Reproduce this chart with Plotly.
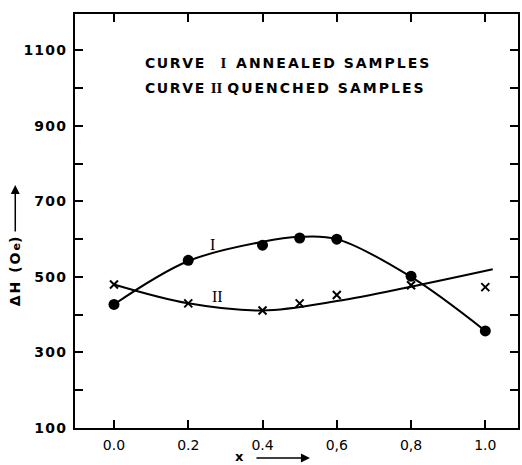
import plotly.graph_objects as go

# ---- data ----
x_annealed = [0.0, 0.2, 0.4, 0.5, 0.6, 0.8, 1.0]
dh_annealed = [427, 544, 584, 603, 600, 502, 357]

x_quenched = [0.0, 0.2, 0.4, 0.5, 0.6, 0.8, 1.0]
dh_quenched = [480, 430, 411, 430, 452, 478, 473]

# smooth (hand-drawn) fitted curves
x_fit_annealed = [0.0, 0.2, 0.4, 0.5, 0.6, 0.8, 1.0]
dh_fit_annealed = [427, 542, 593, 606, 600, 500, 357]

x_fit_quenched = [0.0, 0.2, 0.4, 0.6, 0.8, 1.02]
dh_fit_quenched = [480, 430, 411, 436, 474, 520]

x_tickvals = [0.0, 0.2, 0.4, 0.6, 0.8, 1.0]
x_ticktext = ["0.0", "0.2", "0.4", "0,6", "0,8", "1.0"]
y_tickvals = [100, 200, 300, 400, 500, 600, 700, 800, 900, 1000, 1100]
y_ticktext = ["100", "", "300", "", "500", "", "700", "", "900", "", "1100"]

BLACK = "black"
FONT = "DejaVu Sans"
SERIF = "Liberation Serif"

fig = go.Figure()

fig.add_trace(go.Scatter(x=x_fit_annealed, y=dh_fit_annealed, mode="lines",
                         line=dict(color=BLACK, width=2, shape="spline", smoothing=1.0),
                         hoverinfo="skip"))
fig.add_trace(go.Scatter(x=x_fit_quenched, y=dh_fit_quenched, mode="lines",
                         line=dict(color=BLACK, width=2, shape="spline", smoothing=1.0),
                         hoverinfo="skip"))
fig.add_trace(go.Scatter(x=x_annealed, y=dh_annealed, mode="markers",
                         marker=dict(symbol="circle", size=11, color=BLACK)))
fig.add_trace(go.Scatter(x=x_quenched, y=dh_quenched, mode="markers",
                         marker=dict(symbol="x-thin-open", size=8, color=BLACK,
                                     line=dict(color=BLACK, width=2))))

sp = lambda s, ls: f'<span style="letter-spacing:{ls}px">{s}</span>'

axis_common = dict(
    ticks="inside", ticklen=8, tickwidth=1.5, tickcolor=BLACK,
    showline=True, linewidth=2, linecolor=BLACK, mirror="ticks",
    showgrid=False, zeroline=False,
)

fig.update_layout(
    width=522, height=465,
    margin=dict(l=75, r=2, t=14, b=37),
    paper_bgcolor="white", plot_bgcolor="white",
    showlegend=False,
    font=dict(family=FONT, size=14, color=BLACK),
    xaxis=dict(range=[-0.105, 1.088], tickmode="array", tickvals=x_tickvals,
               ticktext=x_ticktext, ticklabelstandoff=3,
               tickfont=dict(family=FONT, size=14, color=BLACK), **axis_common),
    yaxis=dict(range=[100, 1196], tickmode="array", tickvals=y_tickvals,
               ticktext=[sp(t, 1.2) if t else "" for t in y_ticktext],
               ticklabelstandoff=3,
               tickfont=dict(family=FONT, size=14, color=BLACK, weight="bold"),
               **axis_common),
)

roman = lambda s: f'<span style="font-family:{SERIF};font-weight:bold;font-size:15px">{s}</span>'

annotations = [
    dict(xref="paper", yref="paper", x=(143 - 75) / 445, y=(428 - 63) / 414,
         xanchor="left", yanchor="middle", showarrow=False,
         text=sp("CURVE", 1.6) + "&nbsp;&nbsp;&nbsp;" + roman("I")
              + "&nbsp;&nbsp;" + sp("ANNEALED SAMPLES", 2.0),
         font=dict(family=FONT, size=14, color=BLACK, weight="bold")),
    dict(xref="paper", yref="paper", x=(143 - 75) / 445, y=(428 - 88) / 414,
         xanchor="left", yanchor="middle", showarrow=False,
         text=sp("CURVE", 1.6) + "&nbsp;" + roman("II")
              + "&nbsp;" + sp("QUENCHED SAMPLES", 2.0),
         font=dict(family=FONT, size=14, color=BLACK, weight="bold")),
    # curve labels
    dict(xref="x", yref="y", x=0.265, y=586, text="I", showarrow=False,
         font=dict(family=SERIF, size=16, color=BLACK)),
    dict(xref="x", yref="y", x=0.28, y=447, text="II", showarrow=False,
         font=dict(family=SERIF, size=16, color=BLACK)),
    # y axis title + arrow
    dict(xref="paper", yref="paper", x=(15 - 75) / 445, y=(428 - 270) / 414,
         text=sp("ΔH (O", 2) + '<span style="font-size:11px">e</span>' + sp(")", 2),
         textangle=-90, showarrow=False, xanchor="center", yanchor="middle",
         font=dict(family=FONT, size=14, color=BLACK, weight="bold")),
    dict(xref="paper", yref="paper", x=(15 - 75) / 445, y=(428 - 185) / 414,
         text="", showarrow=True, arrowhead=2, arrowsize=1.2, arrowwidth=1.5,
         arrowcolor=BLACK, ax=0, ay=48),
    # x axis title + arrow
    dict(xref="paper", yref="paper", x=(240 - 75) / 445, y=(428 - 456) / 414,
         text="x", showarrow=False, xanchor="center", yanchor="middle",
         font=dict(family=FONT, size=13, color=BLACK, weight="bold")),
    dict(xref="paper", yref="paper", x=(311 - 75) / 445, y=(428 - 458) / 414,
         text="", showarrow=True, arrowhead=2, arrowsize=1.2, arrowwidth=1.5,
         arrowcolor=BLACK, ax=-55, ay=0),
]
fig.update_layout(annotations=annotations)

fig.write_html("out.html", config={"displayModeBar": False},
               post_script="document.body.style.margin='0px';document.body.style.padding='0px';")
